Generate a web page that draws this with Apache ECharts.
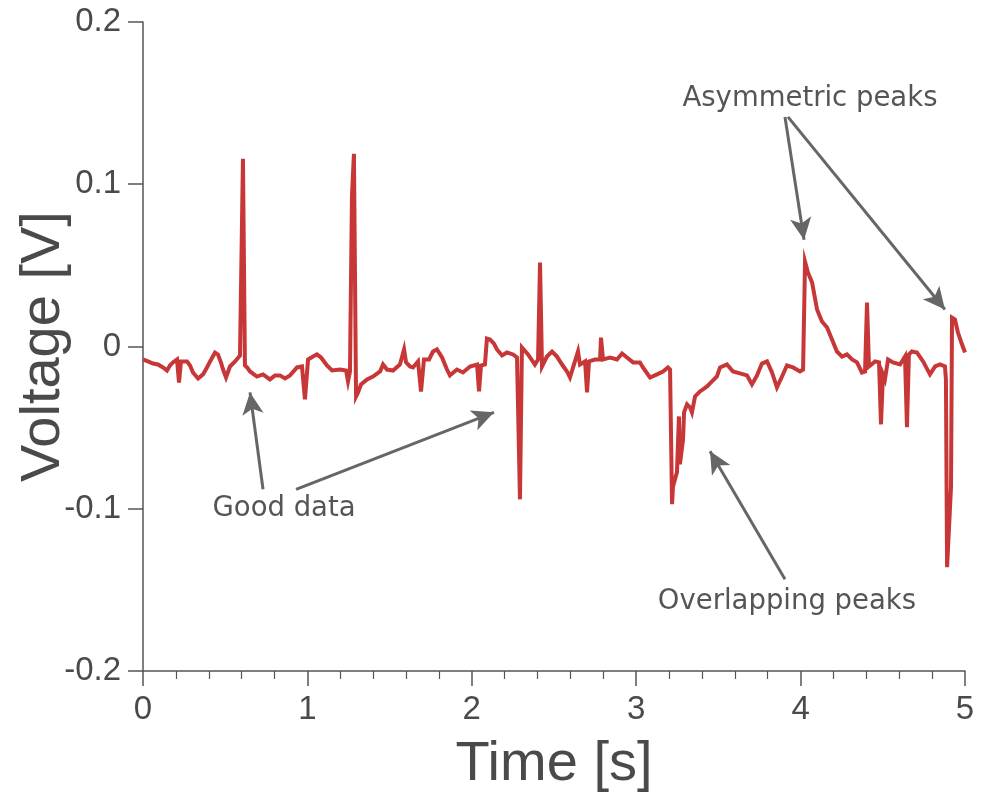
<!DOCTYPE html>
<html>
<head>
<meta charset="utf-8">
<script src="https://cdn.jsdelivr.net/npm/echarts@6/dist/echarts.min.js"></script>
<style>
  html, body { margin: 0; padding: 0; background: #ffffff; }
  #chart { width: 982px; height: 800px; }
</style>
</head>
<body>
<div id="chart"></div>
<script>
// Recorded trace: time [s] and voltage [V]
var times = [
  0.000, 0.030, 0.061, 0.091, 0.122, 0.146, 0.164, 0.182, 0.207, 0.219,
  0.231, 0.268, 0.286, 0.304, 0.335, 0.365, 0.389, 0.408, 0.438, 0.456,
  0.474, 0.487, 0.505, 0.529, 0.560, 0.590, 0.602, 0.608, 0.614, 0.620,
  0.633, 0.651, 0.693, 0.730, 0.772, 0.803, 0.833, 0.864, 0.894, 0.937,
  0.967, 0.985, 1.004, 1.034, 1.058, 1.083, 1.119, 1.150, 1.198, 1.235,
  1.247, 1.259, 1.271, 1.277, 1.283, 1.290, 1.296, 1.308, 1.326, 1.363,
  1.399, 1.442, 1.460, 1.484, 1.521, 1.563, 1.588, 1.600, 1.624, 1.642,
  1.673, 1.691, 1.709, 1.740, 1.764, 1.788, 1.819, 1.849, 1.867, 1.910,
  1.946, 1.989, 2.032, 2.044, 2.056, 2.080, 2.092, 2.111, 2.135, 2.153,
  2.184, 2.214, 2.251, 2.275, 2.293, 2.305, 2.342, 2.384, 2.403, 2.415,
  2.427, 2.457, 2.488, 2.518, 2.549, 2.579, 2.597, 2.616, 2.646, 2.658,
  2.689, 2.701, 2.713, 2.749, 2.780, 2.786, 2.798, 2.841, 2.883, 2.914,
  2.944, 2.981, 3.023, 3.041, 3.084, 3.127, 3.163, 3.193, 3.206, 3.218,
  3.224, 3.248, 3.260, 3.266, 3.285, 3.291, 3.309, 3.327, 3.339, 3.358,
  3.388, 3.431, 3.461, 3.491, 3.510, 3.552, 3.589, 3.631, 3.674, 3.704,
  3.735, 3.765, 3.796, 3.826, 3.856, 3.887, 3.917, 3.954, 3.996, 4.015,
  4.027, 4.045, 4.070, 4.100, 4.130, 4.161, 4.191, 4.221, 4.252, 4.282,
  4.313, 4.343, 4.373, 4.392, 4.404, 4.416, 4.453, 4.477, 4.489, 4.501,
  4.513, 4.532, 4.562, 4.605, 4.635, 4.647, 4.659, 4.677, 4.708, 4.745,
  4.787, 4.818, 4.848, 4.878, 4.884, 4.891, 4.903, 4.915, 4.921, 4.939,
  4.957, 4.982, 5.000
];

var voltages = [
  -0.0080, -0.0092, -0.0105, -0.0111, -0.0129, -0.0148, -0.0117, -0.0098, -0.0080, -0.0222,
  -0.0092, -0.0092, -0.0117, -0.0160, -0.0197, -0.0172, -0.0129, -0.0092, -0.0037, -0.0049,
  -0.0098, -0.0142, -0.0191, -0.0123, -0.0092, -0.0055, -0.0062,  0.1157,  0.1157, -0.0117,
  -0.0129, -0.0154, -0.0185, -0.0172, -0.0203, -0.0178, -0.0178, -0.0197, -0.0178, -0.0129,
  -0.0123, -0.0326, -0.0080, -0.0062, -0.0049, -0.0068, -0.0117, -0.0148, -0.0142, -0.0148,
  -0.0215, -0.0154,  0.0923,  0.0923,  0.1188,  0.1188, -0.0308, -0.0283, -0.0234, -0.0203,
  -0.0185, -0.0154, -0.0111, -0.0142, -0.0148, -0.0111, -0.0018, -0.0098, -0.0123, -0.0129,
  -0.0092, -0.0277, -0.0080, -0.0080, -0.0031, -0.0018, -0.0068, -0.0142, -0.0178, -0.0142,
  -0.0160, -0.0123, -0.0111, -0.0277, -0.0117, -0.0111,  0.0049,  0.0043,  0.0018, -0.0018,
  -0.0055, -0.0037, -0.0049, -0.0068, -0.0942, -0.0006, -0.0049, -0.0111, -0.0080,  0.0517,
  -0.0123, -0.0062, -0.0031, -0.0062, -0.0111, -0.0154, -0.0191, -0.0129, -0.0031, -0.0111,
  -0.0092, -0.0283, -0.0092, -0.0080, -0.0080,  0.0055, -0.0080, -0.0068, -0.0080, -0.0043,
  -0.0068, -0.0098, -0.0098, -0.0129, -0.0191, -0.0172, -0.0154, -0.0129, -0.0142, -0.0972,
  -0.0862, -0.0775, -0.0431, -0.0726, -0.0572, -0.0406, -0.0357, -0.0375, -0.0406, -0.0308,
  -0.0277, -0.0246, -0.0215, -0.0185, -0.0129, -0.0111, -0.0154, -0.0166, -0.0178, -0.0234,
  -0.0178, -0.0105, -0.0092, -0.0160, -0.0252, -0.0185, -0.0117, -0.0129, -0.0154, -0.0142,
   0.0523,  0.0455,  0.0394,  0.0228,  0.0154,  0.0117,  0.0043, -0.0031, -0.0062, -0.0049,
  -0.0080, -0.0098, -0.0160, -0.0154,  0.0271, -0.0123, -0.0092, -0.0098, -0.0480, -0.0172,
  -0.0203, -0.0080, -0.0098, -0.0111, -0.0062, -0.0498, -0.0049, -0.0031, -0.0037, -0.0092,
  -0.0172, -0.0123, -0.0111, -0.0123, -0.0203, -0.1360, -0.1360, -0.0862,  0.0178,  0.0166,
   0.0086,  0.0012, -0.0037
];

// Axis ticks
var xTicks = [0, 1, 2, 3, 4, 5];
var yTickLabels = ['-0.2', '-0.1', '0', '0.1', '0.2'];

// Annotations: caption text and where it sits, in time/voltage units
var noteTexts = ['Good data', 'Overlapping peaks', 'Asymmetric peaks'];
var notePositions = [[0.858, -0.1003], [3.917, -0.1575], [4.057, 0.1526]];

// Arrows: [from, to] in time/voltage units
var arrowPaths = [
  [[0.730, -0.0880], [0.651, -0.0283]],
  [[0.931, -0.0880], [2.135, -0.0406]],
  [[3.905, -0.1434], [3.449, -0.0646]],
  [[3.905, 0.1415], [4.021, 0.0658]],
  [[3.923, 0.1415], [4.878, 0.0228]]
];

var trace = times.map(function (t, i) { return [t, voltages[i]]; });

var axisGray = '#555555';
var labelGray = '#4a4a4a';
var tickFont = 'Liberation Sans, Arial, sans-serif';

var chart = echarts.init(document.getElementById('chart'), null, { renderer: 'canvas' });

chart.setOption({
  animation: false,
  backgroundColor: '#ffffff',
  grid: { left: 143, right: 17, top: 22, bottom: 129, containLabel: false, outerBoundsMode: 'none' },
  xAxis: {
    type: 'value',
    min: xTicks[0],
    max: xTicks[xTicks.length - 1],
    interval: 1,
    name: 'Time [s]',
    nameLocation: 'middle',
    nameGap: 66,
    nameTextStyle: { fontFamily: tickFont, fontSize: 56, color: labelGray },
    axisLine: { show: true, onZero: false, lineStyle: { color: axisGray, width: 1.5 } },
    axisTick: { show: true, inside: false, length: 15, lineStyle: { color: axisGray, width: 1.5 } },
    minorTick: { show: true, splitNumber: 5, length: 8, lineStyle: { color: axisGray, width: 1.2 } },
    splitLine: { show: false },
    axisLabel: {
      margin: 22,
      fontFamily: tickFont,
      fontSize: 33,
      color: labelGray,
      formatter: function (v) { return String(v); }
    }
  },
  yAxis: {
    type: 'value',
    min: -0.2,
    max: 0.2,
    interval: 0.1,
    name: 'Voltage [V]',
    nameLocation: 'middle',
    nameGap: 71,
    nameRotate: 90,
    nameMoveOverlap: false,
    nameTextStyle: { fontFamily: tickFont, fontSize: 56, color: labelGray },
    axisLine: { show: true, onZero: false, lineStyle: { color: axisGray, width: 1.5 } },
    axisTick: { show: true, inside: false, length: 15, lineStyle: { color: axisGray, width: 1.5 } },
    splitLine: { show: false },
    axisLabel: {
      margin: 22,
      fontFamily: tickFont,
      fontSize: 33,
      color: labelGray,
      formatter: function (v) {
        var idx = Math.round((v + 0.2) / 0.1);
        return yTickLabels[idx];
      }
    }
  },
  series: [
    {
      name: 'Voltage',
      type: 'line',
      data: trace,
      showSymbol: false,
      symbol: 'none',
      lineStyle: { color: '#c83737', width: 4, join: 'miter' },
      z: 3,
      markLine: {
        silent: true,
        symbol: ['none', 'arrow'],
        symbolSize: [16, 22],
        label: { show: false },
        lineStyle: { color: '#666666', width: 3, type: 'solid' },
        emphasis: { disabled: true },
        data: arrowPaths.map(function (p) {
          return [{ coord: p[0] }, { coord: p[1] }];
        })
      }
    },
    {
      name: 'Notes',
      type: 'scatter',
      silent: true,
      symbolSize: 0,
      data: notePositions.map(function (p, i) {
        return { value: p, name: noteTexts[i] };
      }),
      label: {
        show: true,
        position: 'inside',
        formatter: '{b}',
        fontFamily: 'DejaVu Sans, sans-serif',
        fontSize: 27.5,
        color: '#2a2a2a'
      },
      z: 4
    }
  ]
});
</script>
</body>
</html>
